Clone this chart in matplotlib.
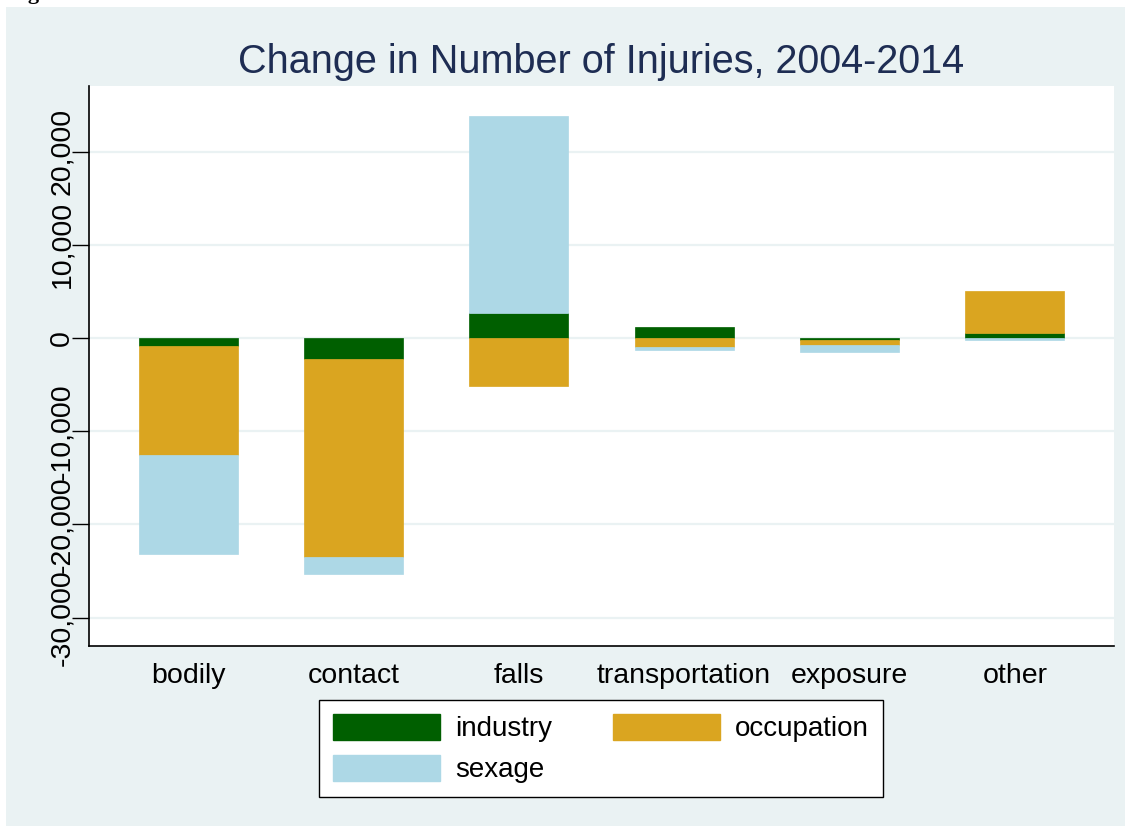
import numpy as np
import matplotlib.pyplot as plt
from matplotlib.patches import Patch, Rectangle

plt.rcParams['font.family'] = ['Liberation Sans', 'DejaVu Sans']

categories = ['bodily', 'contact', 'falls', 'transportation', 'exposure', 'other']
industry = [-900, -2250, 2650, 1200, -250, 550]
occupation = [-11650, -21250, -5150, -1000, -550, 4500]
sexage = [-10650, -1800, 21150, -300, -650, -250]
yticks = [-30000, -20000, -10000, 0, 10000, 20000]

series = [('industry', industry, '#005f00'),
          ('occupation', occupation, '#daa520'),
          ('sexage', sexage, '#add8e6')]

bg = '#eaf2f3'

fig = plt.figure(figsize=(11.25, 8.26), dpi=100, facecolor='white')
fig.patches.append(Rectangle((6 / 1125, 0), 1, 1 - 7 / 826, transform=fig.transFigure,
                             facecolor=bg, edgecolor='none', zorder=-10))
fig.text(8 / 1125, 1 + 1 / 826, 'Figure 5', family='Liberation Serif', fontweight='bold',
         fontsize=16, va='baseline', ha='left')

ax = fig.add_axes([89 / 1125, 1 - 646 / 826, (1114 - 89) / 1125, (646 - 86) / 826])
ax.set_zorder(1)
ax.set_facecolor('white')

x = np.arange(len(categories))
pos_base = np.zeros(len(categories))
neg_base = np.zeros(len(categories))
for name, vals, col in series:
    vals = np.array(vals, dtype=float)
    base = np.where(vals >= 0, pos_base, neg_base)
    ax.bar(x, vals, 0.6, bottom=base, color=col, label=name, zorder=3,
           edgecolor=col, linewidth=0.5)
    pos_base += np.where(vals >= 0, vals, 0)
    neg_base += np.where(vals < 0, vals, 0)

ax.set_xlim(-0.6, 5.6)
ax.set_ylim(-33050, 27040)
ax.set_yticks(yticks)
ax.set_yticklabels([f'{v:,}' for v in yticks], rotation=90, va='center')
ax.set_xticks(x)
ax.set_xticklabels(categories)
ax.tick_params(axis='y', length=12, width=1, labelsize=20.5, pad=-2)
ax.tick_params(axis='x', length=0, labelsize=20.5, pad=12)
ax.grid(axis='y', color=bg, linewidth=1.6, zorder=0)
ax.set_axisbelow(True)
for s in ['top', 'right']:
    ax.spines[s].set_visible(False)
for s in ['left', 'bottom']:
    ax.spines[s].set_linewidth(1.2)

fig.text(601 / 1125, 1 - 62 / 826, 'Change in Number of Injuries, 2004-2014',
         fontsize=28.5, color='#1e2d53', ha='center', va='center')

# matplotlib fills legend columns first; reorder so rows read industry, occupation / sexage
handles = [Patch(facecolor=c, edgecolor=c, label=n) for n, _, c in series]
handles = [handles[0], handles[2], handles[1]]
leg = fig.legend(handles=handles, ncol=2, loc='center', bbox_to_anchor=(601 / 1125, 1 - 748.5 / 826),
                 fontsize=20, frameon=True, fancybox=False, edgecolor='black', facecolor='white',
                 framealpha=1, handlelength=3.85, handleheight=1.05, handletextpad=0.55,
                 columnspacing=2.2, labelspacing=0.45, borderpad=0.5)
leg.get_frame().set_linewidth(1.0)

fig.savefig('out.png', dpi=100, facecolor=fig.get_facecolor())
